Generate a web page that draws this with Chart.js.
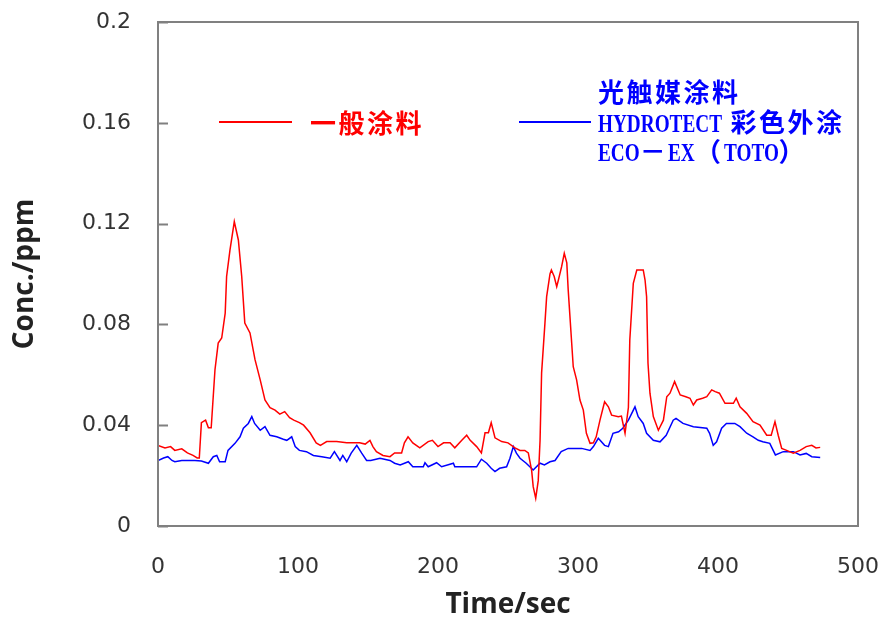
<!DOCTYPE html>
<html>
<head>
<meta charset="utf-8">
<script src="https://cdn.jsdelivr.net/npm/chart.js"></script>
<style>
  html, body { margin: 0; padding: 0; background: #fff; }
  #wrap { position: relative; width: 883px; height: 628px; }
  #chart { position: absolute; left: 0; top: 0; }
  .lg-line { position: absolute; height: 2px; }
  .lg-text {
    position: absolute; white-space: nowrap; line-height: 30px; height: 30px;
    font-family: "Noto Sans CJK SC", sans-serif; font-weight: 700; font-size: 26px;
    letter-spacing: 2.5px;
  }
  .lat {
    display: inline-block; font-family: "Liberation Serif", serif; font-weight: 700;
    font-size: 26px; letter-spacing: 0; transform: scaleX(0.74); transform-origin: 0 50%;
  }
</style>
</head>
<body>
<div id="wrap">
  <canvas id="chart" width="883" height="628"></canvas>

  <div class="lg-line" style="left:219px; top:121px; width:73px; background:#ff0000;"></div>
  <div class="lg-text" style="left:310px; top:107px; color:#ff0000;">一般涂料</div>

  <div class="lg-line" style="left:519px; top:121px; width:72px; background:#0000ff;"></div>
  <div class="lg-text" style="left:598px; top:76px; color:#0000ff;">光触媒涂料</div>
  <div class="lg-text" style="left:598px; top:106px; color:#0000ff;"><span class="lat">HYDROTECT</span> 彩色外涂</div>
  <div class="lg-text" style="left:598px; top:135px; color:#0000ff;"><span class="lat">ECO</span>－<span class="lat">EX</span>（<span class="lat">TOTO</span>）</div>
</div>

<script>
// time (sec) and concentration (ppm)
const redTime = [0, 5, 9, 12, 17, 21, 25, 28, 29.5, 31, 34, 36, 38, 40.7, 43, 45.5, 48, 49, 51.4, 54.5,
  57.4, 59.8, 62, 65.7, 69.3, 73, 76.4, 80, 83.6, 87, 90.5, 94, 97, 101, 104, 108.6, 113, 116, 120.5, 127.6,
  134.8, 140, 144, 148, 151.4, 153.5, 156, 160.7, 165.7, 169, 172, 174, 176, 178.6, 182, 187, 193, 196, 200, 204,
  208.6, 212, 217, 220.5, 223, 227.6, 231, 233.6, 236, 238, 240.7, 245.5, 250, 255, 258.6, 262, 264.5, 266.9, 268, 269.8,
  271.6, 272.9, 274, 276.4, 277.6, 280, 281, 283, 284.8, 286, 288.3, 290.2, 292, 293, 296.6, 299, 301.4, 303.8, 306, 308.6,
  311, 313, 315.7, 319, 321.7, 324, 328.8, 331, 333.6, 336, 337, 339.5, 342, 346.6, 347.9, 349, 350, 351.4, 353.8, 357.4,
  361, 363.4, 365.7, 369, 373, 377, 380, 382.4, 384.8, 389, 392, 395.5, 398, 401, 405, 411, 413, 415.7, 420.5, 425,
  430, 434.8, 438, 440.7, 443, 445.5, 449, 453.8, 458.6, 463, 467, 470, 473];
const redConc = [0.032, 0.031, 0.0315, 0.030, 0.0306, 0.029, 0.028, 0.027, 0.027, 0.041, 0.042, 0.039, 0.039, 0.062, 0.0726, 0.0746, 0.0845, 0.099, 0.1095, 0.1208,
  0.1135, 0.099, 0.0805, 0.0766, 0.066, 0.058, 0.050, 0.047, 0.046, 0.0444, 0.0454, 0.043, 0.042, 0.041, 0.040, 0.037, 0.033, 0.032, 0.0335, 0.0335,
  0.033, 0.033, 0.033, 0.0325, 0.034, 0.0315, 0.0295, 0.028, 0.0275, 0.029, 0.029, 0.029, 0.033, 0.0354, 0.033, 0.031, 0.0335, 0.034, 0.0315, 0.033,
  0.033, 0.031, 0.034, 0.036, 0.034, 0.0315, 0.029, 0.037, 0.037, 0.041, 0.035, 0.0335, 0.033, 0.031, 0.030, 0.030, 0.029, 0.022, 0.0156, 0.011,
  0.018, 0.034, 0.0607, 0.0806, 0.091, 0.100, 0.1016, 0.099, 0.095, 0.0976, 0.1029, 0.1082, 0.1044, 0.0937, 0.0632, 0.058, 0.050, 0.046, 0.0368, 0.0328,
  0.033, 0.0354, 0.042, 0.0493, 0.0473, 0.044, 0.0434, 0.0436, 0.0368, 0.047, 0.0738, 0.0963, 0.1016, 0.1016, 0.0976, 0.091, 0.0646, 0.0527, 0.0434, 0.038,
  0.042, 0.0513, 0.0527, 0.0573, 0.052, 0.0513, 0.0507, 0.048, 0.050, 0.0507, 0.0513, 0.054, 0.0533, 0.0527, 0.0487, 0.0487, 0.0507, 0.0473, 0.0447, 0.0414,
  0.040, 0.036, 0.036, 0.0414, 0.036, 0.0308, 0.030, 0.0289, 0.030, 0.0315, 0.032, 0.031, 0.0312];

const blueTime = [0, 4, 7, 10, 12, 17, 22, 26.4, 31, 36, 39.5, 42, 44, 48, 50, 55, 58.6, 61, 64.5, 67,
  69, 73, 76.4, 80, 84.8, 89.5, 92, 95.5, 98, 101, 106, 111, 117, 123, 126, 130, 132, 134.8, 138, 142,
  145.5, 149, 152, 158.6, 165.7, 169, 173, 178.8, 182, 189.5, 190.7, 193, 199, 202.6, 211, 212, 227.6, 231, 234.8, 238,
  240.7, 244, 249, 251.4, 253.8, 256, 258.6, 263, 268, 272.9, 276, 280, 283.6, 288, 293, 302.6, 308.6, 311, 314.5, 319,
  321.7, 325, 329, 332, 336, 340.7, 343, 346.6, 349, 353.8, 358.6, 363, 368, 370, 375, 382.4, 392, 394, 396.6, 399,
  402.6, 406, 412, 415.7, 420.5, 425, 428.8, 432, 437, 441, 446.6, 453.8, 458.6, 463, 467, 473];
const blueConc = [0.026, 0.027, 0.0275, 0.026, 0.0255, 0.026, 0.026, 0.026, 0.0258, 0.0249, 0.0275, 0.028, 0.0255, 0.0255, 0.030, 0.0328, 0.0354, 0.0388, 0.0407, 0.0434,
  0.0407, 0.038, 0.0394, 0.036, 0.0354, 0.0344, 0.034, 0.0354, 0.0315, 0.030, 0.0295, 0.028, 0.0275, 0.0269, 0.0295, 0.026, 0.028, 0.0255, 0.0289, 0.032,
  0.0289, 0.026, 0.026, 0.0269, 0.026, 0.0249, 0.0242, 0.0255, 0.0235, 0.0235, 0.0251, 0.0235, 0.0251, 0.0235, 0.0249, 0.0235, 0.0235, 0.0265, 0.0249, 0.0229,
  0.0216, 0.0229, 0.0235, 0.0269, 0.0315, 0.0289, 0.0269, 0.0249, 0.0222, 0.0249, 0.0242, 0.0255, 0.026, 0.0295, 0.0308, 0.0308, 0.030, 0.0315, 0.0348, 0.032,
  0.0315, 0.0368, 0.0374, 0.0388, 0.042, 0.0473, 0.0434, 0.0407, 0.0368, 0.034, 0.0334, 0.036, 0.042, 0.0427, 0.0407, 0.0394, 0.0388, 0.0368, 0.032, 0.0334,
  0.0388, 0.0407, 0.0407, 0.0394, 0.0368, 0.0354, 0.034, 0.0334, 0.0328, 0.0282, 0.0295, 0.0295, 0.0282, 0.0288, 0.0275, 0.0272];

const xTicks = [0, 100, 200, 300, 400, 500];
const yTicks = [0, 0.04, 0.08, 0.12, 0.16, 0.2];

const toPoints = (ts, vs) => ts.map((t, i) => ({ x: t, y: vs[i] }));

// plot frame + inward tick marks on the value axis
const framePlugin = {
  id: "frame",
  afterDatasetsDraw(chart) {
    const { ctx, chartArea: a, scales } = chart;
    ctx.save();
    ctx.strokeStyle = "#808080";
    ctx.lineWidth = 2;
    ctx.strokeRect(a.left, a.top, a.right - a.left, a.bottom - a.top);
    ctx.beginPath();
    yTicks.forEach(v => {
      const y = Math.round(scales.y.getPixelForValue(v)) + 0.5;
      ctx.moveTo(a.left, y);
      ctx.lineTo(a.left + 10, y);
    });
    ctx.stroke();
    ctx.restore();
  }
};

new Chart(document.getElementById("chart"), {
  type: "line",
  data: {
    datasets: [
      {
        label: "一般涂料",
        data: toPoints(redTime, redConc),
        borderColor: "#ff0000",
        borderWidth: 1.5,
        pointRadius: 0,
        tension: 0
      },
      {
        label: "光触媒涂料 HYDROTECT 彩色外涂 ECO－EX（TOTO）",
        data: toPoints(blueTime, blueConc),
        borderColor: "#0000ff",
        borderWidth: 1.5,
        pointRadius: 0,
        tension: 0
      }
    ]
  },
  options: {
    responsive: false,
    animation: false,
    layout: { padding: { top: 22, right: 25, left: 0, bottom: 0 } },
    plugins: {
      legend: { display: false },
      tooltip: { enabled: false }
    },
    scales: {
      x: {
        type: "linear",
        min: 0,
        max: 500,
        afterBuildTicks: s => { s.ticks = xTicks.map(v => ({ value: v })); },
        afterFit: s => { s.height = 102; s.paddingLeft = 0; s.paddingRight = 0; },
        grid: { display: false, drawTicks: false },
        border: { display: false },
        ticks: { color: "#333", padding: 28, maxRotation: 0, font: { family: "DejaVu Sans", size: 22 } },
        title: {
          display: true, text: "Time/sec", color: "#222",
          font: { family: "Open Sans", weight: "bold", size: 28 },
          padding: { top: 0, bottom: 6 }
        }
      },
      y: {
        min: 0,
        max: 0.2,
        afterBuildTicks: s => { s.ticks = yTicks.map(v => ({ value: v })); },
        afterFit: s => { s.width = 158; s.paddingTop = 0; s.paddingBottom = 0; },
        grid: { display: false, drawTicks: false },
        border: { display: false },
        ticks: {
          color: "#333", padding: 27, font: { family: "DejaVu Sans", size: 22 },
          callback: v => String(+v.toFixed(2))
        },
        title: {
          display: true, text: "Conc./ppm", color: "#222",
          font: { family: "Open Sans", weight: "bold", size: 28 },
          padding: { top: 8, bottom: 0 }
        }
      }
    }
  },
  plugins: [framePlugin]
});

// squeeze the latin runs of the legend like the narrow serif in the picture
document.querySelectorAll(".lat").forEach(el => {
  const w = el.getBoundingClientRect().width / 0.74;
  el.style.marginRight = (-(w * 0.26)).toFixed(1) + "px";
});
</script>
</body>
</html>
